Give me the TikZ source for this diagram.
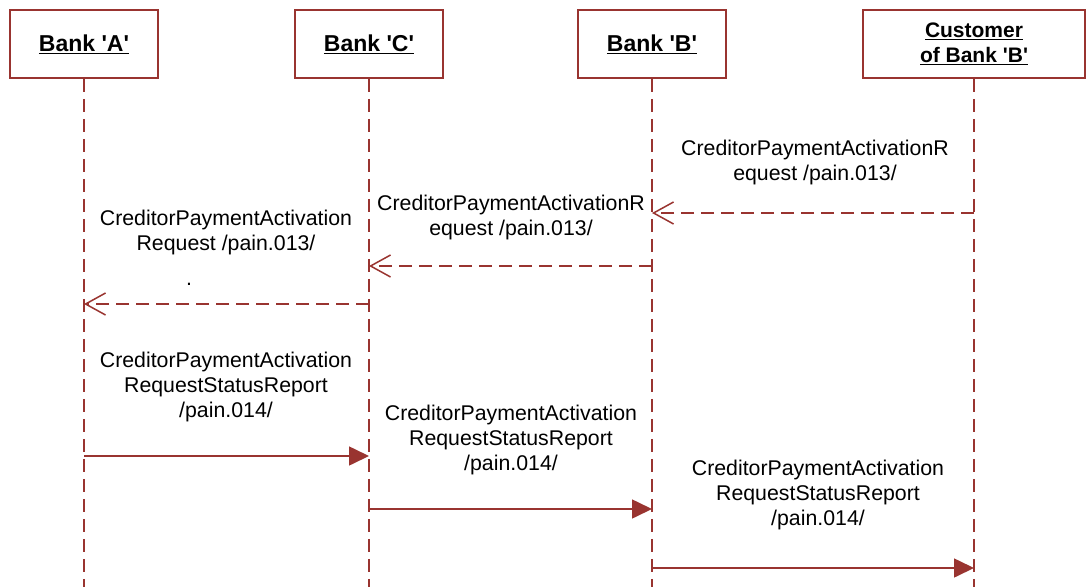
\documentclass[tikz,border=0pt]{standalone}
\usepackage{fontspec}
\setmainfont{Liberation Sans}[Ligatures=TeXOff]
\usetikzlibrary{arrows.meta}
\definecolor{seq}{RGB}{153,52,48}
\newcommand{\ul}[1]{\underline{#1}}
\tikzset{
  x=1pt, y=-1pt,
  actor/.style={draw=seq, line width=1.6pt, fill=white, minimum width=148pt, minimum height=68pt, inner sep=0pt, font=\fontsize{23}{25}\selectfont\bfseries, align=center},
  lifeline/.style={draw=seq, line width=1.5pt, dash pattern=on 13pt off 7pt},
  request/.style={draw=seq, line width=1.5pt, dash pattern=on 13pt off 7pt, -{Straight Barb[length=20pt, width=22pt, line width=1.5pt]}},
  report/.style={draw=seq, line width=1.6pt, -{Triangle[length=20pt, width=19pt]}},
  msg/.style={font=\fontsize{21.3}{25}\selectfont, align=center, inner sep=0pt}
}
\begin{document}
\begin{tikzpicture}
\useasboundingbox (0,0) rectangle (1086,586);
% participants
\node[actor] (bA) at (84,44) {\ul{Bank 'A'}};
\node[actor] (bC) at (369,44) {\ul{Bank 'C'}};
\node[actor] (bB) at (652,44) {\ul{Bank 'B'}};
\node[actor, minimum width=222pt, font=\fontsize{21}{25}\selectfont\bfseries] (cu) at (974,44) {\ul{Customer}\\\ul{of Bank 'B'}};
% lifeline ends
\coordinate (eA) at (84,590);
\coordinate (eC) at (369,590);
\coordinate (eB) at (652,590);
\coordinate (eU) at (974,590);
\draw[lifeline] (bA.south) -- (eA);
\draw[lifeline] (bC.south) -- (eC);
\draw[lifeline] (bB.south) -- (eB);
\draw[lifeline] (cu.south) -- (eU);
% message anchor points on the lifelines
\coordinate (u1) at (974,213); \coordinate (b1) at (652,213);
\coordinate (b2) at (652,266); \coordinate (c2) at (369,266);
\coordinate (c3) at (369,304); \coordinate (a3) at (84,304);
\coordinate (a4) at (84,456);  \coordinate (c4) at (369,456);
\coordinate (c5) at (369,509); \coordinate (b5) at (652,509);
\coordinate (b6) at (652,568); \coordinate (u6) at (974,568);
% pain.013 requests
\draw[request] (u1) -- (b1);
\draw[request] (b2) -- (c2);
\draw[request] (c3) -- (a3);
% pain.014 status reports
\draw[report] (a4) -- (c4);
\draw[report] (c5) -- (b5);
\draw[report] (b6) -- (u6);
% labels
\node[msg] (m1) at (815,162) {CreditorPaymentActivationR\\equest /pain.013/};
\node[msg] (m2) at (511,217) {CreditorPaymentActivationR\\equest /pain.013/};
\node[msg] (m3) at (226,232) {CreditorPaymentActivation\\Request /pain.013/};
\node[msg] (m3d) at (189,284) {.};
\node[msg] (m4) at (226,387) {CreditorPaymentActivation\\RequestStatusReport\\/pain.014/};
\node[msg] (m5) at (511,440) {CreditorPaymentActivation\\RequestStatusReport\\/pain.014/};
\node[msg] (m6) at (818,495) {CreditorPaymentActivation\\RequestStatusReport\\/pain.014/};
\end{tikzpicture}
\end{document}
